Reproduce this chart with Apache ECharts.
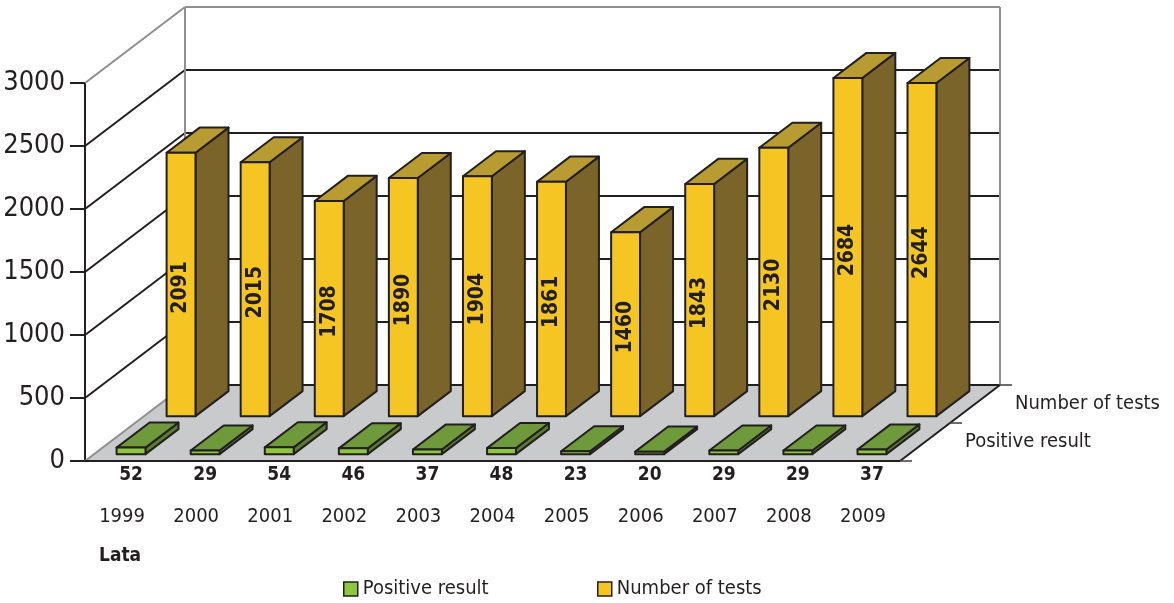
<!DOCTYPE html>
<html>
<head>
<meta charset="utf-8">
<script src="https://cdn.jsdelivr.net/npm/echarts@6/dist/echarts.min.js"></script>
<style>
html,body{margin:0;padding:0;background:#fff;}
#chart{width:1174px;height:603px;}
</style>
</head>
<body>
<div id="chart"></div>
<script>
// ---- data ----
const years = ['1999','2000','2001','2002','2003','2004','2005','2006','2007','2008','2009'];
const positive = [52, 29, 54, 46, 37, 48, 23, 20, 29, 29, 37];
const tests = [2091, 2015, 1708, 1890, 1904, 1861, 1460, 1843, 2130, 2684, 2644];
const yTicks = [0, 500, 1000, 1500, 2000, 2500, 3000];
const rowNames = ['Positive result', 'Number of tests'];

// ---- style constants ----
const DX = 100, DY = -76;          // full depth of the 3D box in pixels
const BAR_W = 0.39;                // fraction of category width
const BAR_D = 0.33;                // fraction of depth
const INK = '#231f20';
const EDGE = '#8e8e90';
const FONT_C = "'DejaVu Sans Condensed','DejaVu Sans',sans-serif";
const FONT_N = "'Liberation Sans Narrow','DejaVu Sans Condensed',sans-serif";

const GREEN = {front:'#8dc63f', top:'#6e9a3c', side:'#587d2f'};
const YELLOW = {front:'#f5c623', top:'#b89b31', side:'#7b6429'};

function barRender(frac, col, labelMode) {
  return function (params, api) {
    const i = api.value(0), v = api.value(1);
    const base = api.coord([i, 0]);
    const top = api.coord([i, v]);
    const w = api.size([1, 0])[0] * BAR_W;
    const ox = DX * frac, oy = DY * frac;
    const dx = DX * BAR_D, dy = DY * BAR_D;
    const xl = base[0] - w / 2 + ox, xr = xl + w;
    const yb = base[1] + oy, yt = top[1] + oy;
    const st = {stroke: INK, lineWidth: 2, lineJoin: 'round'};
    const children = [
      {type:'polygon', shape:{points:[[xr,yt],[xr+dx,yt+dy],[xr+dx,yb+dy],[xr,yb]]}, style:Object.assign({fill:col.side}, st)},
      {type:'polygon', shape:{points:[[xl,yt],[xr,yt],[xr+dx,yt+dy],[xl+dx,yt+dy]]}, style:Object.assign({fill:col.top}, st)},
      {type:'polygon', shape:{points:[[xl,yt],[xr,yt],[xr,yb],[xl,yb]]}, style:Object.assign({fill:col.front}, st)}
    ];
    if (labelMode === 'inside') {
      children.push({type:'text', x:(xl+xr)/2, y:(yt+yb)/2 + 3, rotation:Math.PI/2,
        style:{text:String(v), x:0, y:0, align:'center', verticalAlign:'middle',
          fill:INK, fontSize:21, fontWeight:'bold', fontFamily:FONT_C}});
    } else {
      children.push({type:'text', x:(xl+xr)/2, y:base[1]+14,
        style:{text:String(v), x:0, y:0, align:'center', verticalAlign:'middle',
          fill:INK, fontSize:19, fontWeight:'bold', fontFamily:FONT_C}});
    }
    return {type:'group', children:children};
  };
}

function frameRender(params, api) {
  const cs = params.coordSys;
  const x0 = cs.x, x1 = cs.x + cs.width, yb = cs.y + cs.height, yt = cs.y;
  const ch = [];
  // floor
  ch.push({type:'polygon', shape:{points:[[x0,yb],[x1,yb],[x1+DX,yb+DY],[x0+DX,yb+DY]]}, style:{fill:'#c9cacc', stroke:null}});
  // gridlines on left and back walls
  yTicks.forEach(function (t) {
    const y = api.coord([0, t])[1];
    const isTop = t === yTicks[yTicks.length - 1];
    const isBottom = t === 0;
    ch.push({type:'line', shape:{x1:x0, y1:y, x2:x0+DX, y2:y+DY}, style:{stroke: (isTop||isBottom)?EDGE:INK, lineWidth: 2}});
    ch.push({type:'line', shape:{x1:x0+DX, y1:y+DY, x2:x1+DX, y2:y+DY}, style:{stroke: isTop?EDGE:INK, lineWidth: 2}});
  });
  // vertical edges of back wall
  ch.push({type:'line', shape:{x1:x0+DX, y1:yt+DY, x2:x0+DX, y2:yb+DY}, style:{stroke:EDGE, lineWidth:2}});
  ch.push({type:'line', shape:{x1:x1+DX, y1:yt+DY, x2:x1+DX, y2:yb+DY}, style:{stroke:EDGE, lineWidth:2}});
  // floor front and right edges
  ch.push({type:'line', shape:{x1:x0, y1:yb, x2:x1, y2:yb}, style:{stroke:INK, lineWidth:2}});
  ch.push({type:'line', shape:{x1:x1, y1:yb, x2:x1+DX, y2:yb+DY}, style:{stroke:INK, lineWidth:2}});
  // depth ticks
  [0, 0.5, 1].forEach(function (f) {
    ch.push({type:'line', shape:{x1:x1+DX*f, y1:yb+DY*f, x2:x1+DX*f+12, y2:yb+DY*f}, style:{stroke:'#4a4a4a', lineWidth:1.6}});
  });
  // depth row labels
  rowNames.forEach(function (n, k) {
    const f = 0.25 + 0.5 * k;
    ch.push({type:'text', x:x1+DX*f+40, y:yb+DY*f,
      style:{text:n, x:0, y:0, align:'left', verticalAlign:'middle', fill:INK, fontSize:20, fontFamily:FONT_C}});
  });
  return {type:'group', children:ch};
}

const chart = echarts.init(document.getElementById('chart'), null, {renderer:'canvas'});
chart.setOption({
  animation:false,
  backgroundColor:'#fff',
  grid:{left:85, top:83, width:815, height:378, containLabel:false, outerBoundsMode:'none'},
  xAxis:{type:'category', data:years, boundaryGap:true,
    axisLine:{show:false}, axisTick:{show:false}, splitLine:{show:false},
    axisLabel:{margin:46, color:INK, fontSize:20, fontFamily:FONT_C, interval:0}},
  yAxis:{type:'value', min:0, max:3000, interval:500,
    axisLine:{show:true, lineStyle:{color:INK, width:2}},
    axisTick:{show:true, length:15, lineStyle:{color:INK, width:2}},
    splitLine:{show:false},
    axisLabel:{margin:20, color:INK, fontSize:27, fontFamily:FONT_N,
      formatter:function (v) { return String(v); }}},
  legend:[
    {data:[{name:'Positive result', icon:'rect'}], left:343, top:579, padding:0, itemWidth:14, itemHeight:14,
      itemStyle:{color:GREEN.front, borderColor:INK, borderWidth:1.5},
      textStyle:{color:INK, fontSize:20, fontFamily:FONT_C}},
    {data:[{name:'Number of tests', icon:'rect'}], left:597, top:579, padding:0, itemWidth:14, itemHeight:14,
      itemStyle:{color:YELLOW.front, borderColor:INK, borderWidth:1.5},
      textStyle:{color:INK, fontSize:20, fontFamily:FONT_C}}
  ],
  graphic:[{type:'text', left:99, top:547, style:{text:'Lata', fill:INK, fontSize:19, fontWeight:'bold', fontFamily:FONT_C}}],
  series:[
    {name:'frame', type:'custom', z:1, silent:true, data:[[0,0]], encode:{x:0,y:1}, renderItem:frameRender, clip:false},
    {name:'Number of tests', type:'custom', z:3, data:tests.map(function(v,i){return [i,v];}), encode:{x:0,y:1},
      itemStyle:{color:YELLOW.front}, renderItem:barRender(0.59, YELLOW, 'inside'), clip:false},
    {name:'Positive result', type:'custom', z:4, data:positive.map(function(v,i){return [i,v];}), encode:{x:0,y:1},
      itemStyle:{color:GREEN.front}, renderItem:barRender(0.09, GREEN, 'below'), clip:false}
  ]
});
</script>
</body>
</html>
